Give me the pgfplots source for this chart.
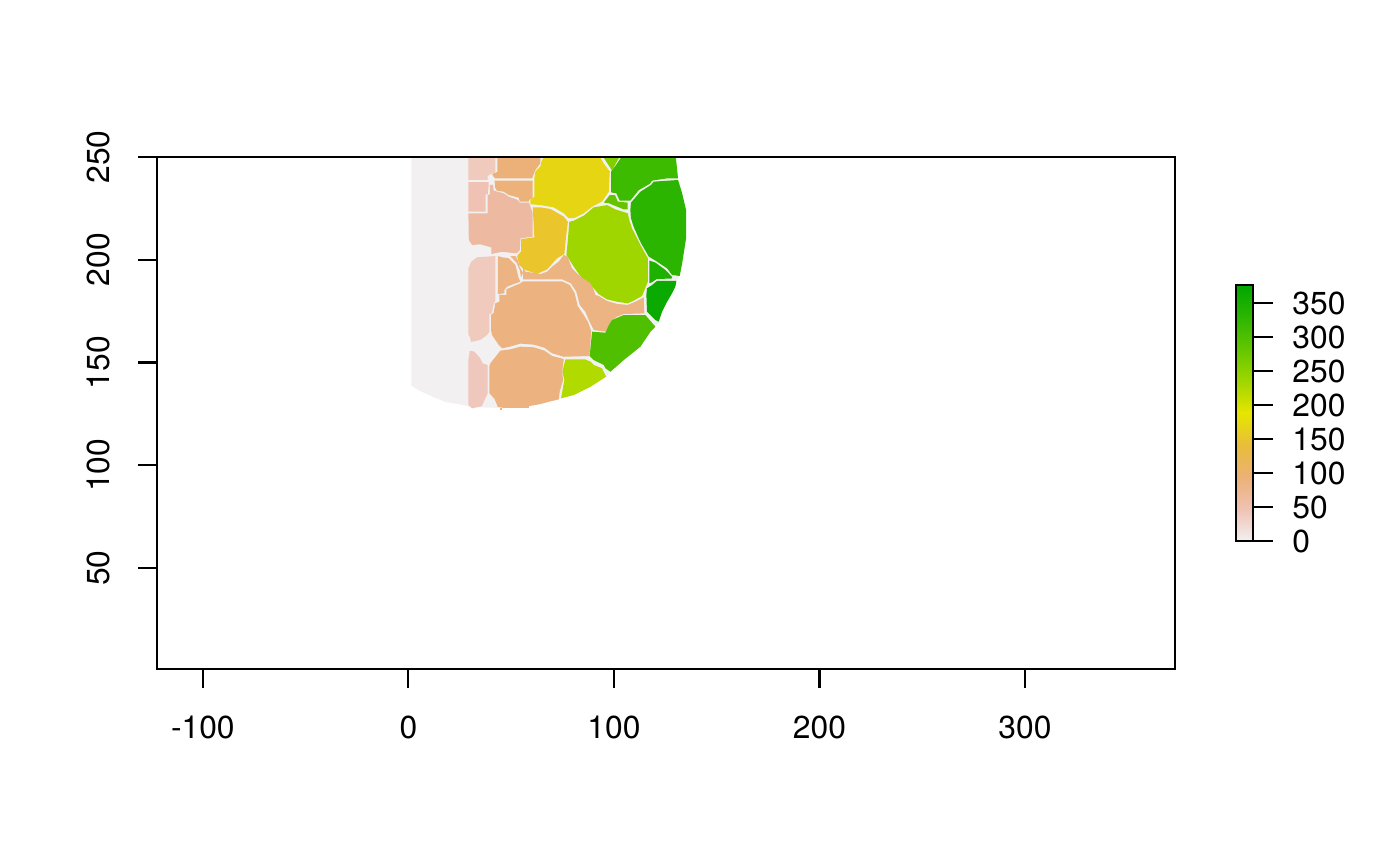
\documentclass[border=0pt]{standalone}
\usepackage{fontspec}
\setmainfont{TeX Gyre Heros}
\usepackage{pgfplots}
\pgfplotsset{compat=1.18}
\begin{document}
\begin{tikzpicture}
\path[use as bounding box] (0,0) rectangle (700pt,432.5pt);
\begin{axis}[
  at={(78.5pt,98pt)}, anchor=south west, scale only axis,
  width=509pt, height=256pt,
  xmin=-122.3, xmax=373.0, ymin=0.9, ymax=250,
  axis on top, axis line style={black,line width=1.1pt},
  tick style={black,line width=1.1pt}, tick align=outside, major tick length=9.5pt,
  xtick pos=bottom, ytick pos=left,
  xtick={-100,0,100,200,300}, xticklabels={-100,0,100,200,300},
  ytick={50,100,150,200,250}, yticklabels={50,100,150,200,250},
  tick label style={font=\fontsize{15.9}{18}\selectfont, inner sep=0pt},
  xticklabel shift=14pt, yticklabel shift=14pt,
  yticklabel style={rotate=90,anchor=south},
  xticklabel style={anchor=north},
  no markers,
]
% base: zero-valued cells
\addplot[fill={rgb,255:red,242;green,240;blue,240},draw=none] coordinates {(1.5,251)(1.5,138.6)(5.8,136.1)(12.2,133.2)(18,130.8)(26.8,129.3)(31.1,128.3)(44.8,127.9)(58.6,127.9)(59,128.8)(64.2,129.8)(68.3,130.9)(73.2,132.1)(74.3,132.6)(80.5,134.2)(88.6,138.2)(96.2,143.1)(98.3,145.5)(104.8,151.2)(112.9,157.7)(117.8,165)(120.2,167.4)(121.8,169.9)(123.4,174.7)(125.9,179.6)(128.3,183.7)(129.9,186.9)(130.4,189.7)(132,192.1)(133.2,198.3)(135.1,210.4)(135.1,224.2)(133.2,232.3)(131.2,238.8)(130,251)} -- cycle;
% R1
\addplot[fill={rgb,255:red,240;green,202;blue,189},draw=none] coordinates {(29.2,251)(42.3,251)(42.3,242.5)(40.7,242)(38.6,240.8)(38.6,238.8)(29.2,238.8)} -- cycle;
% R2
\addplot[fill={rgb,255:red,239;green,194;blue,179},draw=none] coordinates {(29.2,237.8)(39.1,237.8)(39.1,236.4)(38.6,231.8)(37.6,231.8)(37.6,223.4)(29.2,223.4)} -- cycle;
% R3
\addplot[fill={rgb,255:red,237;green,185;blue,161},draw=none] coordinates {(29.2,222.6)(38.6,222.6)(38.6,231.5)(39.6,231.8)(39.6,236.4)(41.2,236.4)(41.5,233.6)(46.4,232.3)(48.8,230.7)(53.2,229.1)(54.2,227.8)(58.6,227.8)(59.4,225.8)(60.5,222.6)(60.5,211.2)(54.5,210.4)(54.2,204.7)(52.6,203.1)(45.6,203.9)(40.4,202.8)(40.4,206)(35,207.5)(31,207.2)(29.4,209.6)} -- cycle;
% R4
\addplot[fill={rgb,255:red,236;green,177;blue,120},draw=none] coordinates {(43.3,251)(64.2,251)(64.2,246.9)(61.8,243.7)(60.2,239.6)(42.3,239.6)(41.5,240.4)(40.7,241.7)(43.3,242.7)} -- cycle;
% R5
\addplot[fill={rgb,255:red,236;green,178;blue,122},draw=none] coordinates {(41.9,238.5)(60.5,238.5)(60.5,229.9)(58.6,229.1)(58.6,228.3)(54.2,228.3)(53.7,230.2)(48.8,231.5)(46.4,233.1)(43.1,233.6)(42.3,234.8)} -- cycle;
% R6
\addplot[fill={rgb,255:red,230;green,213;blue,18},draw=none] coordinates {(67.1,251)(65,248.5)(64.2,245.3)(61.8,242.9)(61.3,239.6)(61.3,230.7)(59.4,229.1)(59.4,227)(64.2,226.6)(70.7,225.5)(75.6,222.6)(78,220.2)(80.5,220.2)(85.3,222.6)(89.4,225.8)(94.2,228.3)(97.5,233.1)(98,242.9)(95,246.9)(92.6,251)} -- cycle;
% R7
\addplot[fill={rgb,255:red,234;green,197;blue,44},draw=none] coordinates {(60.5,225.5)(61.3,210.9)(54.8,210)(54.8,204)(52.9,201.8)(54,197.4)(56.1,195.3)(62.6,193.1)(67.5,195.3)(72.3,200.7)(75.9,202.8)(76.7,210.9)(77.6,218.5)(75.6,221)(69.1,224.7)(64.2,225.5)} -- cycle;
% R8
\addplot[fill={rgb,255:red,160;green,214;blue,0},draw=none] coordinates {(78.3,218.5)(80.5,219)(85.3,221.4)(90.2,225.5)(96.7,226.6)(100.7,224.5)(106.7,222.6)(107.7,218.5)(108.8,215.3)(111.3,210.4)(112.9,207.2)(116.5,200.7)(116.5,189.3)(113.7,182.4)(109.6,180.1)(106.7,178.8)(101.5,179.6)(96.7,180.7)(92.6,183.3)(90.2,186.1)(84.5,190.9)(80.5,196.6)(76.9,202.3)(77.7,210.9)} -- cycle;
% R9
\addplot[fill={rgb,255:red,130;green,207;blue,0},draw=none] coordinates {(94.2,251)(103.2,251)(99.1,243.4)} -- cycle;
% R10
\addplot[fill={rgb,255:red,61;green,187;blue,0},draw=none] coordinates {(104.3,251)(130,251)(131.2,239.6)(125.9,239.6)(118.6,238.5)(117.4,236.9)(112.1,233.9)(108,228.8)(102.8,228.8)(101.2,232.3)(98.6,232.8)(98.6,242.9)(100.7,245.6)} -- cycle;
% R11
\addplot[fill={rgb,255:red,102;green,195;blue,0},draw=none] coordinates {(98,231.5)(100.5,231.5)(101.9,228.3)(106.7,227.8)(106.7,224.5)(104.8,224.5)(97.5,227.5)(95.1,227.8)} -- cycle;
% R12
\addplot[fill={rgb,255:red,43;green,181;blue,0},draw=none] coordinates {(108.3,227.8)(112.9,233.1)(118.1,236.4)(119.4,238)(131.2,238.8)(133.2,232.3)(135.1,224.2)(135.1,210.4)(133.2,198.3)(132,192.1)(128.3,192.6)(125.9,195.8)(120.2,199.6)(117,201.5)(113.7,207.2)(112.1,210.4)(109.6,216.1)(108.3,220.2)(108,224.2)} -- cycle;
% R13
\addplot[fill={rgb,255:red,30;green,177;blue,0},draw=none] coordinates {(117.3,199.6)(120.2,198.6)(125.1,195)(128.3,191.6)(128.3,190.9)(120.7,190.6)(118.6,189.1)(117.3,188.6)} -- cycle;
% R14
\addplot[fill={rgb,255:red,11;green,170;blue,0},draw=none] coordinates {(121,189.7)(130.4,189.7)(129.9,186.9)(128.3,183.7)(125.9,179.6)(123.4,174.7)(121.8,169.9)(120.2,170.7)(116.1,174.7)(115.8,182.9)(116.1,186.1)(118.6,187.7)} -- cycle;
% R15
\addplot[fill={rgb,255:red,236;green,179;blue,131},draw=none] coordinates {(55.8,196)(56.9,194.2)(62.6,193.4)(64.2,193)(67.5,194.2)(69.9,196.6)(73.2,199.1)(75.6,202.3)(77.5,201.5)(79.6,195.8)(83.7,191.8)(88.6,188.5)(90.2,185.3)(91,182.8)(92.6,182.4)(96.7,179.9)(101.5,178.5)(106.7,178)(110.5,179.6)(114.5,181.7)(114.8,173.9)(104.8,173.6)(101.5,172.3)(99.1,170.7)(97.5,168.2)(96.3,165)(90.2,165.8)(87.8,170.7)(86.1,174.7)(83.4,178)(81.7,184.5)(79.1,188.5)(74.8,190.5)(55.8,190.5)} -- cycle;
% R16
\addplot[fill={rgb,255:red,236;green,179;blue,131},draw=none] coordinates {(43.5,201.8)(45.6,201.2)(48.8,200.7)(52.1,197.4)(53.7,191)(54.5,189.3)(51.3,188.2)(48,186.9)(46.7,185.3)(46.7,183.7)(43.5,183.3)} -- cycle;
\addplot[fill={rgb,255:red,236;green,179;blue,131},draw=none] coordinates {(49.6,201.8)(52.1,201.8)(53.2,199.9)(54.2,196.3)(55.8,193.7)(54.8,191.4)(54.2,195)(52.6,198.6)(50.6,200.7)} -- cycle;
% R17
\addplot[fill={rgb,255:red,236;green,178;blue,128},draw=none] coordinates {(44.3,183)(47.7,182.8)(47.7,185.6)(51.3,187.2)(54.5,188.5)(55.8,189.5)(74.8,189.5)(78.5,187.7)(80.9,183.7)(82.4,177.5)(85.3,173.1)(87.3,169.9)(88.9,165.5)(88.6,160.1)(88.1,153.2)(75.6,152.8)(69.9,154.5)(66.2,157.2)(61,158.7)(54.5,159.2)(49.3,157.7)(45.6,156.9)(44,158.5)(40.7,163.4)(40.2,165.8)(40.2,173.1)(41.5,174.2)(42.3,178.8)(44.3,179.6)} -- cycle;
% R18
\addplot[fill={rgb,255:red,236;green,178;blue,128},draw=none] coordinates {(39.4,148)(39.9,149.6)(44.8,155.8)(49.6,156.4)(54.5,157.7)(61,157.4)(66.2,155.8)(69.9,153.2)(75.6,151.7)(74.8,145.5)(75.3,141.5)(73.6,135.8)(73.2,132.1)(68.3,130.9)(64.2,129.8)(58.6,128.8)(58.6,127.9)(46.4,127.9)(43.5,128.5)(41.8,132.6)(39.4,135)} -- cycle;
\addplot[fill={rgb,255:red,236;green,178;blue,128},draw=none] coordinates {(44.4,127.9)(45.4,127.9)(45.4,126.9)(44.4,126.9)} -- cycle;
% R19
\addplot[fill={rgb,255:red,176;green,218;blue,0},draw=none] coordinates {(76.4,151.5)(86.1,151.5)(88.6,150.4)(90.2,148.8)(94.2,147.2)(96.2,143.1)(88.6,138.2)(80.5,134.2)(74.3,132.6)(75.3,138.2)(75.9,141.5)(74.9,145.5)} -- cycle;
% R20
\addplot[fill={rgb,255:red,80;green,191;blue,0},draw=none] coordinates {(89.4,165)(95.9,164.5)(97.5,168.2)(99.1,170.7)(104.8,173.1)(115.3,173.1)(120.2,167.4)(117.8,165)(112.9,157.7)(104.8,151.2)(98.3,145.5)(95.9,147.2)(95.1,148.8)(90.2,151.2)(88.2,153.2)(88.9,160.1)} -- cycle;
% R21
\addplot[fill={rgb,255:red,240;green,202;blue,189},draw=none] coordinates {(29.2,195.8)(30.5,199)(33.4,201.2)(42.3,201.8)(42.3,180.1)(41.2,177.5)(40.7,174.2)(39.4,173.4)(39.4,165)(38.3,163.4)(35,161)(30.5,160)(29.9,162.6)(29.2,163.4)} -- cycle;
% R22
\addplot[fill={rgb,255:red,239;green,199;blue,188},draw=none] coordinates {(29.2,151.2)(29.9,155.8)(32.1,155.3)(35,152)(36.2,149.6)(38.6,148.8)(38.6,135)(36.7,131)(35.8,128.8)(31,127.7)(29.2,129.3)} -- cycle;
\end{axis}
\begin{axis}[
  at={(618pt,162pt)}, anchor=south west, scale only axis,
  width=8.5pt, height=128pt,
  xmin=0, xmax=1, ymin=0, ymax=376.5,
  axis on top, axis line style={black,line width=1.1pt},
  xtick=\empty, ytick={0,50,100,150,200,250,300,350},
  yticklabels={0,50,100,150,200,250,300,350},
  ytick pos=right, tick align=outside, major tick length=10pt,
  tick style={black,line width=1.1pt},
  tick label style={font=\fontsize{15.9}{18}\selectfont, inner sep=0pt},
  yticklabel shift=9.5pt,
  yticklabel style={yshift=-0.4pt},
  colormap={terrainR}{rgb255(0pt)=(242,240,240); rgb255(469pt)=(239,194,179); rgb255(938pt)=(236,177,118); rgb255(1406pt)=(233,189,58); rgb255(1875pt)=(230,230,0); rgb255(2344pt)=(160,214,0); rgb255(2813pt)=(99,198,0); rgb255(3281pt)=(45,182,0); rgb255(3750pt)=(0,166,0)},
  point meta min=0, point meta max=376.5,
]
\addplot[surf, shader=interp, point meta=y, mesh/rows=2, mesh/cols=2] coordinates {(0,0)(1,0)(0,376.5)(1,376.5)};
\end{axis}
\end{tikzpicture}
\end{document}
